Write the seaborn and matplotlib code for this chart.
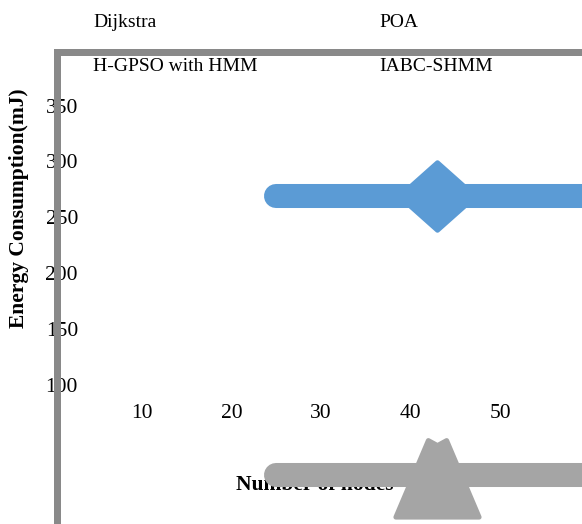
import matplotlib
matplotlib.use("Agg")
import numpy as np
import pandas as pd
import seaborn as sns
import matplotlib.pyplot as plt
from matplotlib.path import Path

# Series shown in the legend, with their colours
series_names = ["Dijkstra", "POA", "H-GPSO with HMM", "IABC-SHMM"]
series_colors = ["#5B9BD5", "#ED7D31", "#A5A5A5", "#FFC000"]

# Axis ticks
x_ticks = [10, 20, 30, 40, 50]
y_ticks = [100, 150, 200, 250, 300, 350]

# Oversized legend keys that landed inside the plotting area (data units)
key_series = ["Dijkstra", "H-GPSO with HMM"]
key_levels = [269, 19.5]
key_start = [25, 25]
key_marker_x = [43, 43]
key_end = [70, 70]

sns.set_theme(style="white")
plt.rcParams["font.family"] = ["Liberation Serif", "DejaVu Serif"]

W, H = 582, 524
fig = plt.figure(figsize=(W / 100, H / 100), dpi=100)
ax = fig.add_axes([57 / W, 0, (W - 57) / W, (H - 52) / H])

palette = dict(zip(series_names, series_colors))

# Key lines
lines = pd.DataFrame({
    "series": np.repeat(key_series, 2),
    "x": np.ravel(np.column_stack([key_start, key_end])),
    "y": np.repeat(key_levels, 2),
})
sns.lineplot(data=lines, x="x", y="y", hue="series", palette=palette,
             linewidth=17.3, solid_capstyle="round", sort=False,
             estimator=None, legend=False, ax=ax, zorder=2)

# Key markers: a diamond for the first series, a notched triangle for the third
diamond = Path([(0, 0.89), (1, 0), (0, -0.89), (-1, 0), (0, 0.89)],
               [Path.MOVETO, Path.LINETO, Path.LINETO, Path.LINETO, Path.CLOSEPOLY])
triangle = Path([(-1, -1), (1, -1), (0.22, 0.84), (0, 0.72), (-0.22, 0.84), (-1, -1)],
                [Path.MOVETO, Path.LINETO, Path.LINETO, Path.LINETO, Path.LINETO,
                 Path.CLOSEPOLY])
marker_shapes = [(diamond, 54.7), (triangle, 60)]
for name, mx, my, (shape, ms) in zip(key_series, key_marker_x, key_levels, marker_shapes):
    sns.scatterplot(x=[mx], y=[my], marker=shape, s=ms ** 2,
                    color=palette[name], edgecolor=palette[name],
                    linewidth=3.5, legend=False, ax=ax, zorder=3)
for coll in ax.collections:
    coll.set_joinstyle("round")

ax.set_xlim(0.503, 59.16)
ax.set_ylim(-24.3, 397.9)
ax.set_xticks(x_ticks)
ax.set_yticks(y_ticks)
ax.tick_params(axis="both", length=0, labelsize=15.5, colors="black")
ax.tick_params(axis="y", pad=-15.1)
ax.tick_params(axis="x", pad=-86.5)

for side in ["right", "bottom"]:
    ax.spines[side].set_visible(False)
for side in ["left", "top"]:
    ax.spines[side].set_color("#898989")
    ax.spines[side].set_linewidth(5.04)
    ax.spines[side].set_zorder(10)

ax.set_xlabel("Number of nodes", fontsize=15.5, fontweight="bold", color="black")
ax.set_ylabel("Energy Consumption(mJ)", fontsize=15.5, fontweight="bold", color="black")
ax.xaxis.set_label_coords(0.491, 0.103)
ax.yaxis.set_label_coords(-0.053, 0.669)

# Legend labels in two columns
legend_pos = [(93, 27), (379, 27), (93, 71), (379, 71)]
for name, (px, py) in zip(series_names, legend_pos):
    fig.text(px / W, 1 - py / H, name, fontsize=14, color="black",
             ha="left", va="baseline")

fig.savefig("out.png", dpi=100)
